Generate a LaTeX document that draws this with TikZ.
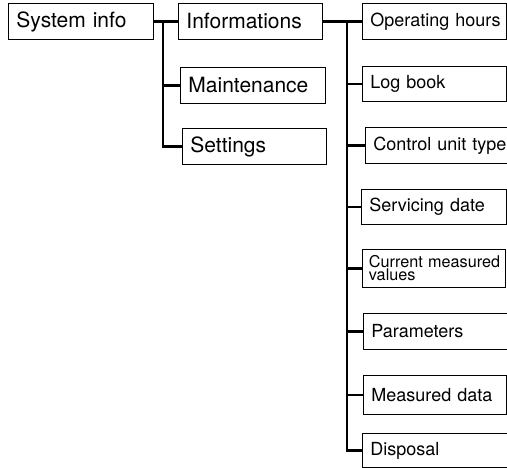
\documentclass[tikz,border=0pt]{standalone}
\usepackage{fontspec}
\setmainfont{TeX Gyre Heros}
\usepackage{tikz}

\begin{document}
\begin{tikzpicture}[x=1pt,y=-1pt]
\tikzstyle{menubox}=[draw=black, line width=0.9pt, anchor=north west, inner xsep=8pt, inner ysep=0pt, align=left]
\tikzstyle{bigtext}=[font=\fontsize{21}{25}\selectfont]
\tikzstyle{smalltext}=[font=\fontsize{18}{21}\selectfont]
\tikzstyle{link}=[black, line width=2.4pt]
\useasboundingbox (0,0) rectangle (507,468);
\clip (0,0) rectangle (507,468);
\node [menubox, bigtext, text width=129pt, minimum height=36pt] (sysinfo) at (8,3) {\mbox{System info}};
\node [menubox, bigtext, text width=128pt, minimum height=36pt] (infos) at (178,3) {\mbox{Informations}};
\node [menubox, bigtext, text width=129pt, minimum height=36pt] (maint) at (180,67) {\mbox{Maintenance}};
\node [menubox, bigtext, text width=128pt, minimum height=36pt] (settings) at (182,128) {\mbox{Settings}};
\node [menubox, smalltext, text width=128pt, minimum height=36pt] (ophours) at (362,3) {\mbox{Operating hours}};
\node [menubox, smalltext, text width=128pt, minimum height=35pt] (logbook) at (362,66) {\mbox{Log book}};
\node [menubox, smalltext, text width=134pt, minimum height=36pt] (cutype) at (365,127) {\mbox{Control unit type}};
\node [menubox, smalltext, text width=129pt, minimum height=35pt] (servdate) at (361,189) {\mbox{Servicing date}};
\node [menubox, font=\fontsize{16.2}{13}\selectfont, inner xsep=6.5pt, text width=130pt, minimum height=38pt] (curvals) at (362,249) {\mbox{Current measured}\\values};
\node [menubox, smalltext, text width=134pt, minimum height=36pt] (params) at (363,313) {\mbox{Parameters}};
\node [menubox, smalltext, text width=127pt, minimum height=39pt] (measdata) at (363,375) {\mbox{Measured data}};
\node [menubox, smalltext, text width=134pt, minimum height=34pt] (disposal) at (362,433) {\mbox{Disposal}};
\coordinate (bus1) at (163,0);
\coordinate (bus2) at (347,0);
\draw [link] (sysinfo.east) -- (infos.west);
\draw [link] (bus1 |- sysinfo.east) |- (settings.west);
\draw [link] (bus1 |- maint.west) -- (maint.west);
\draw [link] (infos.east) -- (ophours.west);
\draw [link] (bus2 |- ophours.west) |- (disposal.west);
\draw [link] (bus2 |- logbook.west) -- (logbook.west);
\draw [link] (bus2 |- cutype.west) -- (cutype.west);
\draw [link] (bus2 |- servdate.west) -- (servdate.west);
\draw [link] (bus2 |- curvals.west) -- (curvals.west);
\draw [link] (bus2 |- params.west) -- (params.west);
\draw [link] (bus2 |- measdata.west) -- (measdata.west);
\end{tikzpicture}
\end{document}
